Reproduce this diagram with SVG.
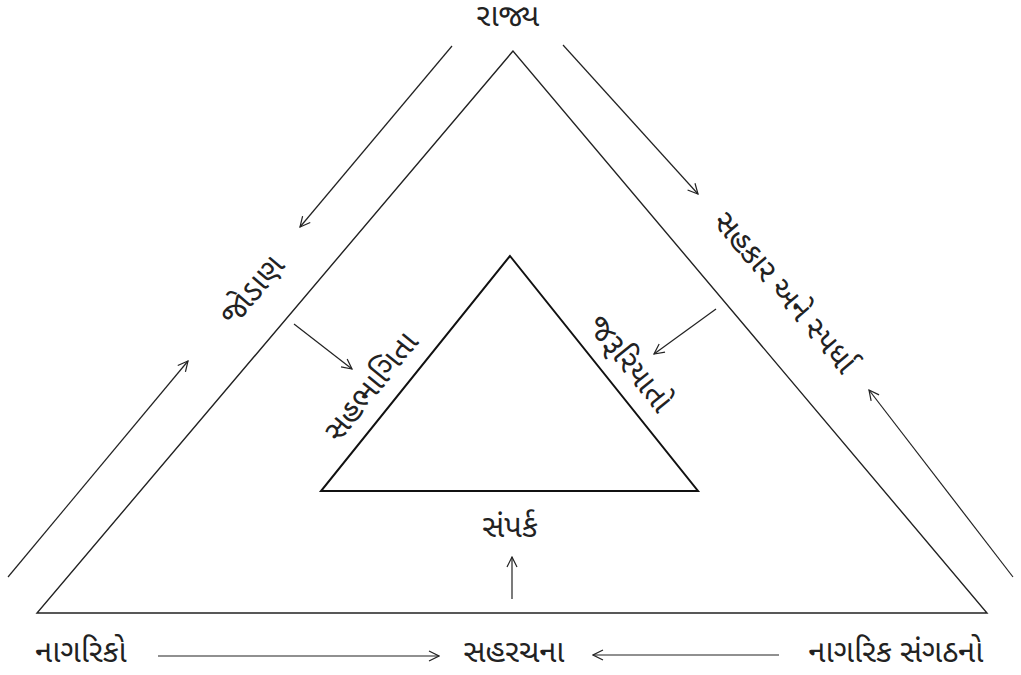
<svg xmlns="http://www.w3.org/2000/svg" width="1021" height="675" viewBox="0 0 1021 675">
<defs>
<marker id="ah" viewBox="0 0 12 12" refX="11" refY="6" markerWidth="12" markerHeight="12" markerUnits="userSpaceOnUse" orient="auto">
<path d="M1,1 L11,6 L1,11" fill="none" stroke="#222" stroke-width="1.2"/>
</marker>
<style>
text{font-family:"Noto Sans Gujarati","Lohit Gujarati","Noto Sans",sans-serif;font-size:31px;fill:#222;text-anchor:middle}
.tri{fill:none;stroke:#222;stroke-width:1.4}
.tri2{fill:none;stroke:#111;stroke-width:2}
.arr{fill:none;stroke:#222;stroke-width:1.2;marker-end:url(#ah)}
</style>
</defs>
<rect width="1021" height="675" fill="#fff"/>
<g id="outer-triangle"><polygon class="tri" points="513,51 37,613 987,613"/></g>
<g id="inner-triangle"><polygon class="tri2" points="510,256 321,491 698,491"/></g>
<g id="connectors">
<line class="arr" x1="452" y1="46" x2="300" y2="227"/>
<line class="arr" x1="563" y1="45" x2="698" y2="194"/>
<line class="arr" x1="8" y1="577" x2="188" y2="361"/>
<line class="arr" x1="1013" y1="577" x2="869" y2="390"/>
<line class="arr" x1="294" y1="324" x2="352" y2="369"/>
<line class="arr" x1="716" y1="309" x2="654" y2="354"/>
<line class="arr" x1="512" y1="599" x2="512" y2="557"/>
<line class="arr" x1="158" y1="656" x2="439" y2="656"/>
<line class="arr" x1="779" y1="655" x2="593" y2="655"/>
</g>
<g id="rajya"><text x="508" y="26">રાજ્ય</text></g>
<g id="jodan"><text transform="translate(260,297) rotate(-49.7)">જોડાણ</text></g>
<g id="sahbhagita"><text transform="translate(379,393) rotate(-51.2)">સહભાગિતા</text></g>
<g id="jaruriyato"><text transform="translate(622,370) rotate(51.2)">જરૂરિયાતો</text></g>
<g id="sahkar"><text transform="translate(777,299) rotate(49.7)">સહકાર અને સ્પર્ધા</text></g>
<g id="sampark"><text x="510" y="537">સંપર્ક</text></g>
<g id="nagriko"><text x="81" y="662">નાગરિકો</text></g>
<g id="sahrachna"><text x="514" y="662">સહરચના</text></g>
<g id="nagrik-sangathano"><text x="896" y="662">નાગરિક સંગઠનો</text></g>
</svg>
